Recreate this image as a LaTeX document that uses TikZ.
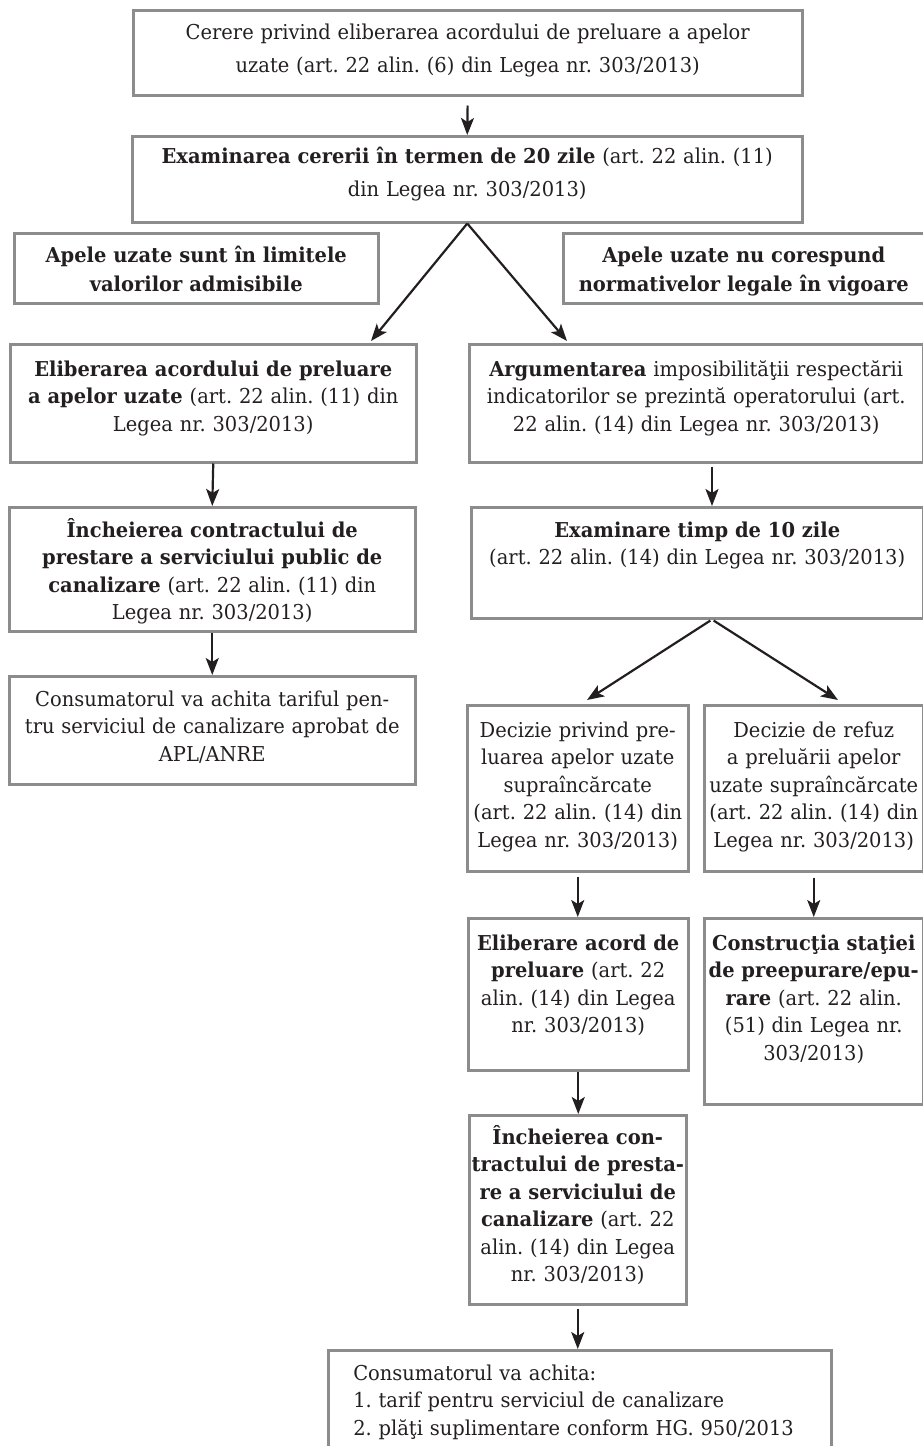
\documentclass[tikz,border=0pt]{standalone}
\usepackage{fontspec}
\setmainfont{DejaVu Serif}[FakeStretch=0.95]
\usetikzlibrary{arrows.meta,calc}
\definecolor{boxgray}{HTML}{8C8C8C}
\definecolor{ink}{HTML}{231F20}
\frenchspacing
\begin{document}
\begin{tikzpicture}[x=1pt,y=-1pt,
  blk/.style={draw=boxgray,line width=2.5pt,inner xsep=0pt,inner ysep=0pt,anchor=north west,align=center,text=ink,font=\fontsize{20.5}{27.5}\selectfont},
  wide/.style={font=\fontsize{20.5}{33}\selectfont},
  head/.style={font=\fontsize{20.5}{29}\selectfont\bfseries},
  arr/.style={-{Stealth[length=17pt,width=13pt,inset=4pt]},line width=2.2pt,draw=ink}]
\useasboundingbox (0,0) rectangle (923,1446);
% top
\node[blk,wide,text width=669pt,text height=29pt,text depth=56pt] (cer) at (132,9) {Cerere privind eliberarea acordului de preluare a apelor\\uzate (art. 22 alin. (6) din Legea nr. 303/2013)};
\node[blk,wide,text width=670pt,text height=27pt,text depth=59pt] (exam) at (131,135) {\textbf{Examinarea cererii în termen de 20 zile} (art. 22 alin. (11)\\din Legea nr. 303/2013)};
\node[blk,head,text width=364pt,text height=29pt,text depth=41pt] (ok) at (13,232) {Apele uzate sunt în limitele\\valorilor admisibile};
\node[blk,head,text width=361pt,text height=29pt,text depth=41pt] (nok) at (562,232) {Apele uzate nu corespund\\normativelor legale în vigoare};
% left branch
\node[blk,text width=406pt,text height=32pt,text depth=86pt] (elib) at (9,343) {\textbf{Eliberarea acordului de preluare}\\\textbf{a apelor uzate} (art. 22 alin. (11) din\\Legea nr. 303/2013)};
\node[blk,text width=406pt,text height=30pt,text depth=94pt] (inch) at (8,506) {\textbf{Încheierea contractului de}\\\textbf{prestare a serviciului public de}\\\textbf{canalizare} (art. 22 alin. (11) din\\Legea nr. 303/2013)};
\node[blk,text width=406pt,text height=30pt,text depth=78pt] (plata) at (8,675) {Consumatorul va achita tariful pen-\\tru serviciul de canalizare aprobat de\\APL/ANRE};
% right branch
\node[blk,text width=454pt,text height=32pt,text depth=86pt] (argum) at (468,343) {\textbf{Argumentarea} imposibilităţii respectării\\indicatorilor se prezintă operatorului (art.\\22 alin. (14) din Legea nr. 303/2013)};
\node[blk,text width=452pt,text height=30pt,text depth=81pt] (examT) at (470,506) {\textbf{Examinare timp de 10 zile}\\(art. 22 alin. (14) din Legea nr. 303/2013)};
\node[blk,text width=221pt,text height=32pt,text depth=134pt] (decP) at (466,704) {Decizie privind pre-\\luarea apelor uzate\\supraîncărcate\\(art. 22 alin. (14) din\\Legea nr. 303/2013)};
\node[blk,text width=219pt,text height=32pt,text depth=134pt] (decR) at (703,704) {Decizie de refuz\\a preluării apelor\\uzate supraîncărcate\\(art. 22 alin. (14) din\\Legea nr. 303/2013)};
\node[blk,text width=220pt,text height=32pt,text depth=120pt] (elibA) at (467,917) {\textbf{Eliberare acord de}\\\textbf{preluare} (art. 22\\alin. (14) din Legea\\nr. 303/2013)};
\node[blk,text width=219pt,text height=32pt,text depth=154pt] (constr) at (703,917) {\textbf{Construcţia staţiei}\\\textbf{de preepurare/epu-}\\\textbf{rare} (art. 22 alin.\\(51) din Legea nr.\\303/2013)};
\node[blk,text width=217pt,text height=29pt,text depth=160pt] (inchC) at (468,1114) {\textbf{Încheierea con-}\\\textbf{tractului de presta-}\\\textbf{re a serviciului de}\\\textbf{canalizare} (art. 22\\alin. (14) din Legea\\nr. 303/2013)};
\node[blk,align=left,inner xsep=25pt,text width=453pt,text height=30pt,text depth=111pt] (fin) at (327,1349) {Consumatorul va achita:\\1. tarif pentru serviciul de canalizare\\2. plăţi suplimentare conform HG. 950/2013};
% arrows
\coordinate (kx) at (712,0);
\coordinate (dp) at (587,0);
\coordinate (dr) at (838,0);
\coordinate (el) at (371,0);
\coordinate (ar) at (567,0);
\draw[arr,shorten <=9pt] (cer.south) -- (exam.north);
\draw[arr] (exam.south) -- ($(elib.north -| el)+(0,-2)$);
\draw[arr] (exam.south) -- ($(argum.north -| ar)+(0,-2)$);
\draw[arr] (elib.south) -- (inch.north);
\draw[arr,shorten <=3pt] (argum.south -| kx) -- (examT.north -| kx);
\draw[arr] (inch.south) -- (plata.north);
\draw[arr,shorten <=2pt] (examT.south -| kx) -- ($(decP.north -| dp)+(0,-4)$);
\draw[arr,shorten <=2pt] (examT.south -| kx) -- ($(decR.north -| dr)+(0,-4)$);
\draw[arr,shorten <=4pt] (decP.south) -- (elibA.north -| decP.south);
\draw[arr,shorten <=5pt] (decR.south) -- (constr.north);
\draw[arr] (elibA.south) -- (inchC.north -| elibA.south);
\draw[arr,shorten <=3pt] (inchC.south) -- (fin.north -| inchC.south);
\end{tikzpicture}
\end{document}
